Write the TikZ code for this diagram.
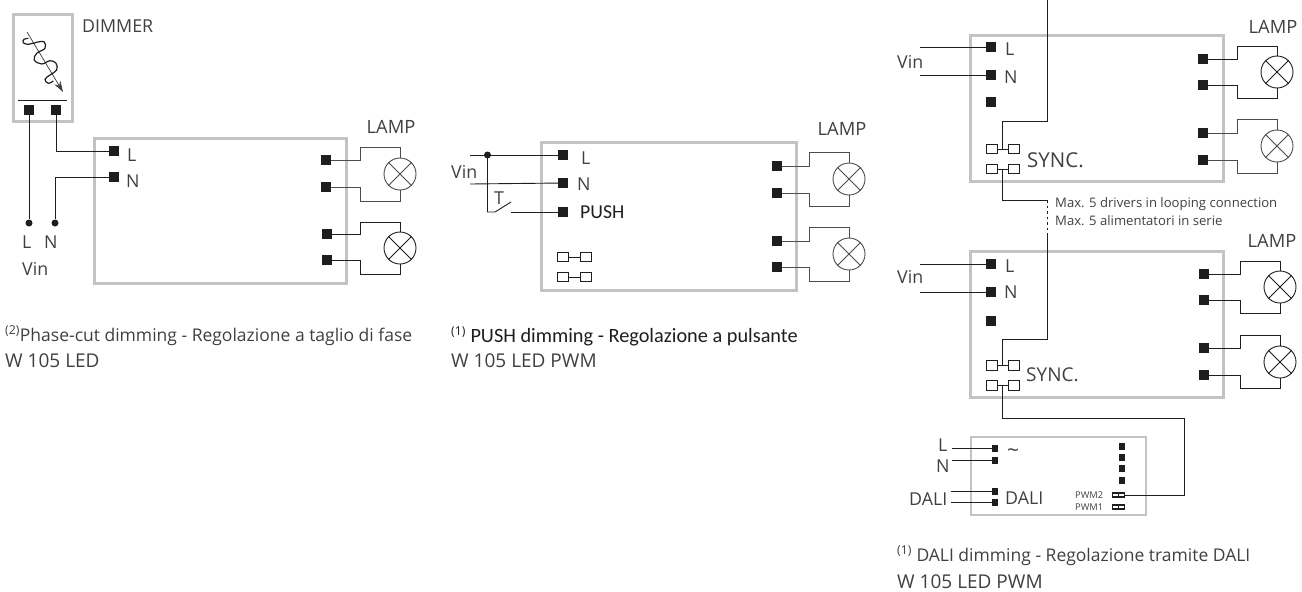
\documentclass[tikz,border=0pt]{standalone}
\usetikzlibrary{calc,arrows.meta}
\usepackage{fontspec}
\setmainfont{Open Sans}
\newfontfamily\calfont{Carlito}
\definecolor{boxgray}{HTML}{C2C3C5}
\definecolor{ink}{HTML}{1E1E1E}
\definecolor{txt}{HTML}{404040}
\tikzset{
  devbox/.style={draw=boxgray,line width=3pt},
  smallbox/.style={draw=boxgray,line width=2pt},
  term/.style={rectangle,fill=ink,inner sep=0pt,minimum size=9.5pt},
  tinyterm/.style={rectangle,fill=ink,inner sep=0pt,minimum width=6pt,minimum height=7pt},
  dot/.style={circle,fill=ink,inner sep=0pt,minimum size=7pt},
  wire/.style={draw=ink,line width=0.9pt},
  lampc/.style={circle,minimum size=32pt,inner sep=0pt},
  syncsq/.style={rectangle,draw=ink,fill=white,line width=0.8pt,inner sep=0pt,minimum width=11pt,minimum height=9.5pt},
  lbl/.style={inner sep=0pt,text=txt,anchor=base west,font=\fontsize{17.8}{20}\selectfont},
  caption/.style={inner sep=0pt,text=txt,anchor=base west,font=\fontsize{17.5}{20}\selectfont},
  captionb/.style={inner sep=0pt,text=txt,anchor=base west,font=\fontsize{19}{20}\selectfont},
  lamplbl/.style={inner sep=0pt,text=txt,anchor=base,font=\fontsize{18.3}{20}\selectfont},
  maxlbl/.style={inner sep=0pt,anchor=base west,text=txt,font=\fontsize{13.1}{15}\selectfont},
  pwmlbl/.style={inner sep=0pt,anchor=base west,text=txt,font=\fontsize{9.3}{10}\selectfont},
  pwmconn/.style={rectangle,draw=ink,fill=white,line width=1.2pt,inner sep=0pt,minimum width=12pt,minimum height=4pt},
}
% prefix, terminal x, y1, y2, bend x, lamp x, lamp y, top y, bottom y
\newcommand{\lampset}[9]{%
  \node[term] (#1a) at (#2,#3) {};
  \node[term] (#1b) at (#2,#4) {};
  \node[lampc,draw=wirecol,line width=0.9pt] (#1l) at (#6,#7) {};
  \draw[draw=wirecol,line width=0.9pt] (#1l.45) -- (#1l.225) (#1l.135) -- (#1l.315);
  \draw[draw=wirecol,line width=0.9pt] (#1a.east) -- (#5,#3) |- (#6,#8) -- (#1l.north);
  \draw[draw=wirecol,line width=0.9pt] (#1b.east) -- (#5,#4) |- (#6,#9) -- (#1l.south);
}
\newcommand{\syncpair}[5]{% prefix, x1, x2, y1, y2
  \node[syncsq] (#1a) at (#2,#4) {};
  \node[syncsq] (#1b) at (#3,#4) {};
  \node[syncsq] (#1c) at (#2,#5) {};
  \node[syncsq] (#1d) at (#3,#5) {};
  \draw[wire] (#1a) -- (#1b);
  \draw[wire] (#1c) -- (#1d);
}
\begin{document}
\begin{tikzpicture}[x=1pt,y=-1pt]
\useasboundingbox (0,0) rectangle (1302,592);
\fill[white] (0,0) rectangle (1302,592);

% ---------- Panel 1
\draw[devbox] (13.5,14.5) rectangle (72,121);
\draw[devbox] (94,138) rectangle (346,283);
\draw[wire] (18,100) -- (67,100);
\node[term] (d1) at (29,110) {};
\node[term] (d2) at (56,110) {};
\node[term] (pl) at (114,151) {};
\node[term] (pn) at (114,177) {};
\node[dot] (vl) at (29,223) {};
\node[dot] (vn) at (55,223) {};
\draw[wire] (d1) -- (vl);
\draw[wire] (d2) |- (pl);
\draw[wire] (pn) -| (vn);
\draw[line width=0.7pt,draw=black!75,-{Stealth[length=11pt,width=7pt]}] (27,32) -- (63,92);
\draw[line width=1.2pt,draw=ink] plot[smooth,tension=0.65] coordinates {(28.3,38.3) (24,39.3) (23.3,42.7) (28.3,44.3) (36.7,42.3) (44,41.7) (45,48.3) (36.7,53.3) (34.3,60) (41.7,64) (50,60.7) (56,63.3) (56.7,70) (50,75) (45,79.3) (48.3,83.3) (53.3,81)};
\node[lbl] (dim) at (82,32) {DIMMER};
\node[lbl] (t1l) at (127,161) {L};
\node[lbl] (t1n) at (126,187) {N};
\node[lbl] (vlt) at (22,248) {L};
\node[lbl] (vnt) at (44,248) {N};
\node[lbl] (vin1) at (22,275) {Vin};
\colorlet{wirecol}{black!70}
\lampset{a}{326}{160}{187}{360}{400}{174}{147}{201}
\colorlet{wirecol}{ink}
\lampset{b}{327}{234}{260}{360}{400}{248}{222}{274}
\node[lamplbl] (la1) at (391,133) {LAMP};
\node[caption] (c1a) at (5,341) {\textsuperscript{(2)}Phase-cut dimming - Regolazione a taglio di fase};
\node[captionb] (c1b) at (5,367) {W 105 LED};

% ---------- Panel 2
\draw[devbox] (541,142) rectangle (796,290);
\node[term] (q1) at (563,155) {};
\node[term] (q2) at (563,183) {};
\node[term] (q3) at (563,212) {};
\coordinate (v1) at (470,155);
\coordinate (v2) at (470,184);
\node[dot] (j) at (487.5,155) {};
\coordinate (sa) at (495,212);
\coordinate (sb) at (511,202);
\coordinate (sc) at (511,212);
\draw[wire] (v1) -- (q1);
\draw[wire] (v2) -- (q2);
\draw[wire] (j.center) |- (sa) -- (sb);
\draw[wire] (sc) -- (q3);
\node[lbl] (tt) at (494,204) {T};
\node[lbl] (vin2) at (451,178) {Vin};
\node[lbl] (t2l) at (581,164) {L};
\node[lbl] (t2n) at (577,190) {N};
\node[inner sep=0pt,anchor=base west,text=ink,font=\calfont\fontsize{19.7}{20}\selectfont] (t2p) at (580,218) {PUSH};
\syncpair{s2}{562.5}{585.5}{257}{277}
\colorlet{wirecol}{black!70}
\lampset{c}{777}{166}{193}{809}{849}{179}{152}{206}
\lampset{d}{777}{241}{267}{809}{849}{254}{227}{281}
\node[lamplbl] (la2) at (842,135) {LAMP};
\node[caption,text=ink] (c2a) at (451,342) {\textsuperscript{(1)} {\calfont\fontsize{20.3}{22}\selectfont PUSH dimming - Regolazione a pulsante}};
\node[captionb] (c2b) at (451,367) {W 105 LED PWM};

% ---------- Panel 3 upper
\draw[devbox] (970.5,35.5) rectangle (1223.5,181.5);
\node[term] (u1) at (991,47) {};
\node[term] (u2) at (991,75) {};
\node[term] (u3) at (991,102) {};
\coordinate (u1v) at (920,47);
\coordinate (u2v) at (920,75);
\draw[wire] (u1v) -- (u1);
\draw[wire] (u2v) -- (u2);
\node[lbl] (vin3) at (897,68) {Vin};
\node[lbl] (t3l) at (1005,55) {L};
\node[lbl] (t3n) at (1004,83) {N};
\syncpair{s3}{991.5}{1013.5}{149}{169}
\coordinate (top) at (1047,0);
\coordinate (um) at (1047,121);
\draw[wire] (top) -- (um) -| ($(s3a)!0.5!(s3b)$);
\node[lbl,font=\fontsize{20.5}{22}\selectfont] (sy1) at (1027,167) {SYNC.};
\colorlet{wirecol}{ink}
\lampset{e}{1203}{59}{85}{1237}{1277}{72}{46}{98}
\colorlet{wirecol}{black!70}
\lampset{f}{1203}{133}{160}{1237}{1277}{146}{119}{173}
\node[lamplbl] (la3) at (1273,33) {LAMP};
\node[maxlbl] (m1) at (1055,207) {Max. 5 drivers in looping connection};
\node[maxlbl] (m2) at (1055,225) {Max. 5 alimentatori in serie};
\coordinate (dsh1) at (1047,200);
\coordinate (dsh2) at (1047,235);
\draw[wire] ($(s3c)!0.5!(s3d)$) |- (dsh1);
\draw[wire,dash pattern=on 2.5pt off 3pt] (dsh1) -- (dsh2);

% ---------- Panel 3 lower
\draw[devbox] (970.5,251.5) rectangle (1223.5,397.5);
\node[term] (w1) at (991,264) {};
\node[term] (w2) at (991,292) {};
\node[term] (w3) at (991,321) {};
\coordinate (w1v) at (920,264);
\coordinate (w2v) at (920,292);
\draw[wire] (w1v) -- (w1);
\draw[wire] (w2v) -- (w2);
\node[lbl] (vin4) at (897,283) {Vin};
\node[lbl] (t4l) at (1005,272) {L};
\node[lbl] (t4n) at (1004,298) {N};
\syncpair{s4}{991.5}{1013.5}{365.5}{385.5}
\coordinate (wm) at (1047,339);
\draw[wire] (dsh2) -- (wm) -| ($(s4a)!0.5!(s4b)$);
\node[lbl,font=\fontsize{19}{22}\selectfont] (sy2) at (1026,381) {SYNC.};
\colorlet{wirecol}{ink}
\lampset{g}{1204}{274}{300}{1240}{1280}{287}{261}{313}
\lampset{h}{1204}{348}{375}{1240}{1280}{362}{335}{388}
\node[lamplbl] (la4) at (1272,247) {LAMP};

% ---------- DALI box
\draw[smallbox] (971,437) rectangle (1146,515);
\node[tinyterm] (k1) at (995,448) {};
\node[tinyterm] (k2) at (995,460) {};
\node[tinyterm] (k3) at (995,491) {};
\node[tinyterm] (k4) at (995,502) {};
\coordinate (k1v) at (952,448);
\coordinate (k2v) at (952,460);
\coordinate (k3v) at (951,491);
\coordinate (k4v) at (951,502);
\draw[wire] (k1v) -- (k1);
\draw[wire] (k2v) -- (k2);
\draw[wire] (k3v) -- (k3);
\draw[wire] (k4v) -- (k4);
\node[tinyterm] (r1) at (1122,446) {};
\node[tinyterm] (r2) at (1122,457) {};
\node[tinyterm] (r3) at (1122,468) {};
\node[tinyterm] (r4) at (1122,480) {};
\node[lbl] (dl) at (938,451) {L};
\node[lbl] (dn) at (936,472) {N};
\node[lbl] (dd) at (909,505) {DALI};
\node[lbl,anchor=center,font=\fontsize{21}{22}\selectfont] (dt) at (1013,453) {\symbol{"7E}};
\node[lbl] (ddi) at (1005,504) {DALI};
\node[pwmlbl] (pw2) at (1075,498) {PWM2};
\node[pwmlbl] (pw1) at (1075,510) {PWM1};
\node[pwmconn] (p2) at (1118.5,495) {};
\node[pwmconn] (p1) at (1118.5,507) {};
\draw[line width=1pt,draw=ink] (p2.north) -- (p2.south) (p1.north) -- (p1.south);
\coordinate (dc) at (1184,418);
\draw[wire] ($(s4c)!0.5!(s4d)$) |- (dc) |- (p2);
\node[caption] (c3a) at (897,561) {\textsuperscript{(1)} DALI dimming - Regolazione tramite DALI};
\node[captionb] (c3b) at (897,588) {W 105 LED PWM};
\end{tikzpicture}
\end{document}
